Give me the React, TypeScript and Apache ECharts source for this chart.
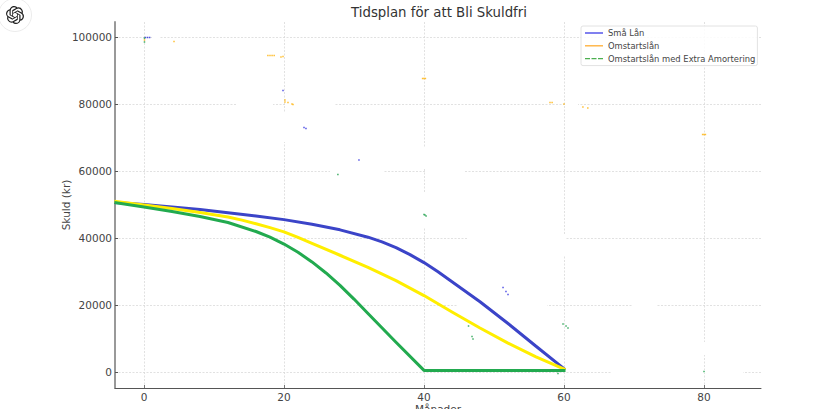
import React, { useEffect, useRef } from "react";
import * as echarts from "echarts";

const TITLE = "Tidsplan för att Bli Skuldfri";
const X_NAME = "Månader";
const Y_NAME = "Skuld (kr)";
const X_TICKS = [0, 20, 40, 60, 80];
const Y_TICKS = [0, 20000, 40000, 60000, 80000, 100000];

const NAME_SMALL = "Små Lån";
const NAME_RESTART = "Omstartslån";
const NAME_EXTRA = "Omstartslån med Extra Amortering";

const smallLoans = [
  [-4, 50650], [0, 50050], [4, 49350], [8, 48550], [12, 47600], [16, 46650], [20, 45550],
  [24, 44150], [28, 42500], [32, 40300], [34, 38900], [36, 37200], [38, 35100], [40, 32700],
  [42, 29950], [44, 27000], [48, 21000], [52, 14500], [56, 7700], [60, 1000],
];
const restart = [
  [-4, 51000], [0, 49900], [4, 48900], [8, 47700], [12, 46350], [14, 45400], [16, 44300],
  [18, 43150], [20, 41900], [22, 40250], [24, 38450], [28, 34900], [32, 31300], [36, 27300],
  [40, 22850], [44, 17950], [48, 13150], [52, 8650], [56, 4550], [60, 900],
];
const extra = [
  [-4, 50600], [0, 49300], [4, 48000], [8, 46500], [12, 44700], [16, 42000], [18, 40300],
  [20, 38250], [22, 35800], [24, 32900], [26, 29600], [28, 25900], [30, 21800], [32, 17500],
  [36, 8900], [40, 480], [60, 480],
];

const blueSpecks = [
  [0.2, 100000], [0.5, 100000], [0.8, 100000], [19.86, 84150], [22.86, 73100],
  [23.14, 72800], [30.71, 63400], [51.29, 25260], [51.71, 24070], [52, 23170],
];
const orangeSpecks = [
  [0.07, 99250], [4.29, 98800], [17.7, 94600], [18, 94600], [18.3, 94600], [18.6, 94600],
  [19.57, 94170], [19.86, 94300], [20.14, 81300], [20.14, 80700], [20.57, 80570],
  [21.14, 80100], [21.29, 79970], [39.8, 87740], [40, 87740], [40.2, 87740],
  [58, 80570], [58.3, 80570], [60, 80100], [62.7, 79200], [63.4, 78900],
  [79.8, 71000], [80, 71000], [80.2, 71000],
];
const greenSpecks = [
  [0.07, 99800], [0.07, 98650], [27.7, 59040], [40, 47080], [40.14, 46940], [40.3, 46640],
  [46.36, 13750], [46.86, 10610], [47, 9870], [59.86, 14350], [60.29, 13750],
  [60.57, 13150], [80, 150], [59.14, -450],
];

// Places where the reference's grid lines are wiped out: [x, y, width, height] in pixels.
const gridGaps = [
  [152, 36, 8, 3], [237, 103, 36, 3], [285, 103, 49, 3], [565, 103, 13, 3],
  [330, 170, 54, 3], [425, 170, 40, 3], [468, 236, 96, 3], [457, 304, 90, 3],
  [633, 304, 24, 3], [611, 370, 132, 3],
  [283, 112, 3, 30], [423, 148, 3, 20], [423, 193, 3, 35], [563, 235, 3, 20], [703, 342, 3, 13],
];

const LOGO_PATH =
  "M22.2819 9.8211a5.9847 5.9847 0 0 0-.5157-4.9108 6.0462 6.0462 0 0 0-6.5098-2.9A6.0651 6.0651 0 0 0 4.9807 4.1818a5.9847 5.9847 0 0 0-3.9977 2.9 6.0462 6.0462 0 0 0 .7427 7.0966 5.98 5.98 0 0 0 .511 4.9107 6.051 6.051 0 0 0 6.5146 2.9001A5.9847 5.9847 0 0 0 13.2599 24a6.0557 6.0557 0 0 0 5.7718-4.2058 5.9894 5.9894 0 0 0 3.9977-2.9001 6.0557 6.0557 0 0 0-.7475-7.0729zm-9.022 12.6081a4.4755 4.4755 0 0 1-2.8764-1.0408l.1419-.0804 4.7783-2.7582a.7948.7948 0 0 0 .3927-.6813v-6.7369l2.02 1.1686a.071.071 0 0 1 .038.052v5.5826a4.504 4.504 0 0 1-4.4945 4.4944zm-9.6607-4.1254a4.4708 4.4708 0 0 1-.5346-3.0137l.142.0852 4.783 2.7582a.7712.7712 0 0 0 .7806 0l5.8428-3.3685v2.3324a.0804.0804 0 0 1-.0332.0615L9.74 19.9502a4.4992 4.4992 0 0 1-6.1408-1.6464zM2.3408 7.8956a4.485 4.485 0 0 1 2.3655-1.9728V11.6a.7664.7664 0 0 0 .3879.6765l5.8144 3.3543-2.0201 1.1685a.0757.0757 0 0 1-.071 0l-4.8303-2.7865A4.504 4.504 0 0 1 2.3408 7.872zm16.5963 3.8558L13.1038 8.364 15.1192 7.2a.0757.0757 0 0 1 .071 0l4.8303 2.7913a4.4944 4.4944 0 0 1-.6765 8.1042v-5.6772a.79.79 0 0 0-.407-.667zm2.0107-3.0231l-.142-.0852-4.7735-2.7818a.7759.7759 0 0 0-.7854 0L9.409 9.2297V6.8974a.0662.0662 0 0 1 .0284-.0615l4.8303-2.7866a4.4992 4.4992 0 0 1 6.6802 4.66zM8.3065 12.863l-2.02-1.1638a.0804.0804 0 0 1-.038-.0567V6.0742a4.4992 4.4992 0 0 1 7.3757-3.4537l-.142.0805L8.704 5.459a.7948.7948 0 0 0-.3927.6813zm1.0976-2.3654l2.602-1.4998 2.6069 1.4998v2.9994l-2.5974 1.4997-2.6067-1.4997Z";

const FONT = "DejaVu Sans";

function curve(name: string, data: number[][], color: string) {
  return {
    name,
    type: "line",
    data,
    smooth: false,
    showSymbol: false,
    symbol: "none",
    lineStyle: { color, width: 3, cap: "square", join: "round" },
    itemStyle: { color },
    z: 3,
  };
}

function specks(name: string, data: number[][], color: string) {
  return {
    name,
    type: "scatter",
    data,
    symbol: "rect",
    symbolSize: 1.5,
    itemStyle: { color },
    silent: true,
    z: 4,
  };
}

echarts.graphic.registerShape("logo", echarts.graphic.extendPath(LOGO_PATH, {}));

export default function App() {
  const ref = useRef<HTMLDivElement>(null);

  useEffect(() => {
    if (!ref.current) return;
    const chart = echarts.init(ref.current, null, { renderer: "svg", width: 831, height: 409 });
    const axisText = { color: "#444", fontFamily: FONT, fontSize: 10.5 };
    chart.setOption({
      animation: false,
      backgroundColor: "#ffffff",
      textStyle: { fontFamily: FONT },
      title: {
        text: TITLE,
        left: 434,
        top: 1,
        textAlign: "center",
        textStyle: { color: "#333", fontFamily: FONT, fontSize: 13.3, fontWeight: "normal" },
      },
      grid: { left: 115, right: 70, top: 22, bottom: 21, containLabel: false, outerBoundsMode: "none" },
      legend: {
        left: 581,
        top: 26,
        orient: "vertical",
        padding: [3, 2, 3, 4],
        itemGap: 4.8,
        itemWidth: 18,
        itemHeight: 9,
        backgroundColor: "rgba(255,255,255,0.85)",
        borderColor: "#e2e2e2",
        borderWidth: 1,
        borderRadius: 2,
        textStyle: { color: "#444", fontFamily: FONT, fontSize: 8.4 },
        data: [
          { name: NAME_SMALL, icon: "path://M0 0H18V1.4H0Z", itemStyle: { color: "#4a4ae8" } },
          { name: NAME_RESTART, icon: "path://M0 0H18V1.4H0Z", itemStyle: { color: "#ffb340" } },
          { name: NAME_EXTRA, icon: "path://M0 0H5V1.4H0ZM6.5 0H11.5V1.4H6.5ZM13 0H18V1.4H13Z", itemStyle: { color: "#4caf50" } },
        ],
      },
      xAxis: {
        type: "value",
        min: -4.14,
        max: 88.14,
        axisLine: { show: true, onZero: false, lineStyle: { color: "#555", width: 1 } },
        axisTick: { show: true, inside: true, length: 3, lineStyle: { color: "#777" }, customValues: X_TICKS },
        axisLabel: { ...axisText, margin: 3, customValues: X_TICKS, formatter: (v: number) => String(v) },
        splitLine: { show: true, lineStyle: { color: "#d9d9d9", type: [2, 1.5], width: 0.8 } },
        name: X_NAME,
        nameLocation: "middle",
        nameGap: 15,
        nameMoveOverlap: false,
        nameTextStyle: axisText,
      },
      yAxis: {
        type: "value",
        min: -4783,
        max: 104630,
        axisLine: { show: true, onZero: false, lineStyle: { color: "#999", width: 2 } },
        axisTick: { show: true, inside: true, length: 3, lineStyle: { color: "#555" }, customValues: Y_TICKS },
        axisLabel: { ...axisText, margin: 3, customValues: Y_TICKS, formatter: (v: number) => String(v) },
        splitLine: { show: true, lineStyle: { color: "#d9d9d9", type: [2, 1.5], width: 0.8 } },
        name: Y_NAME,
        nameLocation: "middle",
        nameGap: 44,
        nameMoveOverlap: false,
        nameTextStyle: axisText,
      },
      graphic: [
        ...gridGaps.map(([x, y, width, height]) => ({
          type: "rect",
          z: 1,
          silent: true,
          shape: { x, y, width, height },
          style: { fill: "#ffffff" },
        })),
        {
          type: "circle",
          z: 10,
          silent: true,
          shape: { cx: 15, cy: 15, r: 16.5 },
          style: { fill: "#ffffff", stroke: "#ececec", lineWidth: 1 },
        },
        {
          type: "logo",
          z: 11,
          silent: true,
          x: 6,
          y: 6,
          scaleX: 0.75,
          scaleY: 0.75,
          style: { fill: "#1f1f1f" },
        },
      ],
      series: [
        curve(NAME_SMALL, smallLoans, "#3b44c8"),
        curve(NAME_RESTART, restart, "#ffee00"),
        curve(NAME_EXTRA, extra, "#22aa4f"),
        specks("Fläckar blå", blueSpecks, "#2a2ae0"),
        specks("Fläckar orange", orangeSpecks, "#ffb000"),
        specks("Fläckar gröna", greenSpecks, "#109a40"),
      ],
    });
    return () => chart.dispose();
  }, []);

  return <div ref={ref} style={{ position: "absolute", left: 0, top: 0, width: 831, height: 409, overflow: "hidden" }} />;
}
